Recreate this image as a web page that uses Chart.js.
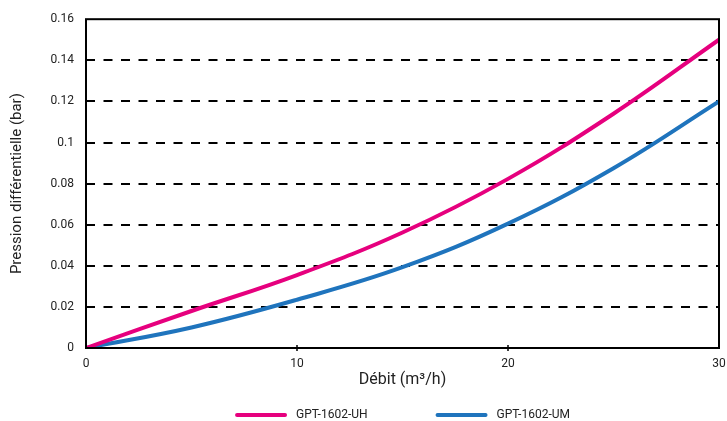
<!DOCTYPE html>
<html>
<head>
<meta charset="utf-8">
<script src="https://cdn.jsdelivr.net/npm/chart.js@4.4.1/dist/chart.umd.min.js"></script>
<style>
  html, body { margin: 0; padding: 0; background: #fff; }
  #wrap { width: 727px; height: 421px; }
</style>
</head>
<body>
<div id="wrap"><canvas id="pressureChart"></canvas></div>
<script>
// values
const flowRates = [0, 5, 10, 15, 20, 25, 30];
const seriesUH = [0, 0.018, 0.0355, 0.0562, 0.0823, 0.114, 0.150];
const seriesUM = [0, 0.0100, 0.0235, 0.0393, 0.0605, 0.0875, 0.120];
const xTicks = [0, 10, 20, 30];
const yTicks = [0, 0.02, 0.04, 0.06, 0.08, 0.1, 0.12, 0.14, 0.16];

const PINK = '#e6007e';
const BLUE = '#1f74bd';
const FONT = 'Roboto, "Noto Sans", sans-serif';

function toPoints(xs, ys) {
    return xs.map(function(x, i) { return { x: x, y: ys[i] }; });
}

// frame round the plot area + small ticks on the x axis
const framePlugin = {
    id: 'frame',
    afterDatasetsDraw: function(chart) {
        const ctx = chart.ctx;
        const a = chart.chartArea;
        const xs = chart.scales.x;
        ctx.save();
        ctx.strokeStyle = '#000';
        ctx.lineWidth = 2;
        ctx.strokeRect(a.left, a.top, a.right - a.left, a.bottom - a.top);
        ctx.lineWidth = 1.5;
        xTicks.slice(1, -1).forEach(function(v) {
            const px = xs.getPixelForValue(v);
            ctx.beginPath();
            ctx.moveTo(px, a.bottom - 3);
            ctx.lineTo(px, a.bottom + 3);
            ctx.stroke();
        });
        ctx.restore();
    }
};

// legend at the bottom, centred under the plot area
const legendPlugin = {
    id: 'wideLegend',
    afterDraw: function(chart) {
        const ctx = chart.ctx;
        const a = chart.chartArea;
        const sets = chart.data.datasets;
        const lineLen = 52, textGap = 9, itemGap = 68;
        const y = 415;
        ctx.save();
        ctx.font = '12px ' + FONT;
        const widths = sets.map(function(d) { return lineLen + textGap + ctx.measureText(d.label).width; });
        const total = widths.reduce(function(s, w) { return s + w; }, 0) + itemGap * (sets.length - 1);
        let x = (a.left + a.right - total) / 2;
        sets.forEach(function(d, i) {
            ctx.strokeStyle = d.borderColor;
            ctx.lineWidth = 4;
            ctx.lineCap = 'round';
            ctx.beginPath();
            ctx.moveTo(x + 2, y);
            ctx.lineTo(x + lineLen - 2, y);
            ctx.stroke();
            ctx.fillStyle = '#222';
            ctx.textBaseline = 'middle';
            ctx.textAlign = 'left';
            ctx.fillText(d.label, x + lineLen + textGap, y);
            x += widths[i] + itemGap;
        });
        ctx.restore();
    }
};

Chart.defaults.font.family = FONT;
Chart.defaults.color = '#222';

new Chart(document.getElementById('pressureChart').getContext('2d'), {
    type: 'line',
    data: {
        datasets: [{
            label: 'GPT-1602-UH',
            data: toPoints(flowRates, seriesUH),
            borderColor: PINK,
            backgroundColor: PINK,
            borderWidth: 4,
            pointRadius: 0,
            tension: 0.4
        }, {
            label: 'GPT-1602-UM',
            data: toPoints(flowRates, seriesUM),
            borderColor: BLUE,
            backgroundColor: BLUE,
            borderWidth: 4,
            pointRadius: 0,
            tension: 0.4
        }]
    },
    options: {
        responsive: true,
        maintainAspectRatio: false,
        animation: false,
        devicePixelRatio: 1,
        layout: { padding: { top: 16, right: 0, left: 0, bottom: 23 } },
        plugins: {
            legend: { display: false },
            tooltip: { enabled: false }
        },
        scales: {
            x: {
                type: 'linear',
                min: 0,
                max: 30,
                afterBuildTicks: function(scale) {
                    scale.ticks = xTicks.map(function(v) { return { value: v }; });
                },
                afterFit: function(scale) {
                    scale.height = 50;
                    scale.paddingRight = 8;
                    scale.paddingLeft = 0;
                },
                grid: { display: false },
                border: { display: false },
                ticks: { font: { size: 12 }, padding: 1, maxRotation: 0 },
                title: {
                    display: true,
                    text: 'Débit (m³/h)',
                    font: { size: 16 },
                    padding: { top: 2, bottom: 8 }
                }
            },
            y: {
                min: 0,
                max: 0.16,
                afterBuildTicks: function(scale) {
                    scale.ticks = yTicks.map(function(v) { return { value: v }; });
                },
                afterFit: function(scale) { scale.width = 86; },
                grid: {
                    color: function(c) {
                        const v = c.tick ? c.tick.value : 0;
                        return (v === 0 || v === 0.16) ? 'rgba(0,0,0,0)' : '#000';
                    },
                    lineWidth: 2,
                    drawTicks: false
                },
                border: { display: false, dash: [9, 8.5] },
                ticks: {
                    font: { size: 12 },
                    padding: 12,
                    callback: function(v) { return String(Number(v.toFixed(2))); }
                },
                title: {
                    display: true,
                    text: 'Pression différentielle (bar)',
                    font: { size: 15 },
                    padding: { top: 8, bottom: 0 }
                }
            }
        }
    },
    plugins: [framePlugin, legendPlugin]
});
</script>
</body>
</html>
